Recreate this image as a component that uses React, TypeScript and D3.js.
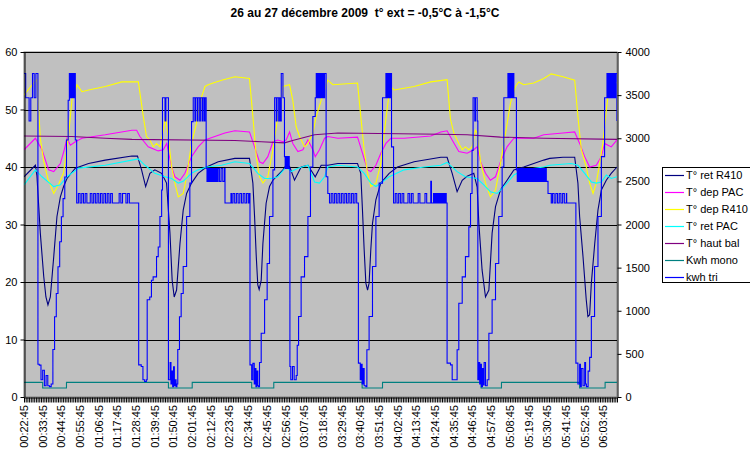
import React, { useEffect, useRef } from "react";
import * as d3 from "d3";

type Pt = [number, number];

// Category axis: one category per minute, labels every 11 minutes
const categoryCount = 349;
const labelStep = 11;
const timeLabels = [
  "00:22:45", "00:33:45", "00:44:45", "00:55:45", "01:06:45", "01:17:45", "01:28:45", "01:39:45",
  "01:50:45", "02:01:45", "02:12:45", "02:23:45", "02:34:45", "02:45:45", "02:56:45", "03:07:45",
  "03:18:45", "03:29:45", "03:40:45", "03:51:45", "04:02:45", "04:13:45", "04:24:45", "04:35:45",
  "04:46:45", "04:57:45", "05:08:45", "05:19:45", "05:30:45", "05:41:45", "05:52:45", "06:03:45",
];

const leftTicks = [0, 10, 20, 30, 40, 50, 60];
const rightTicks = [0, 500, 1000, 1500, 2000, 2500, 3000, 3500, 4000];

// [minute, value]
const retR410: Pt[] = [
  [0, 38.3], [6.7, 40.3], [7.6, 38.5], [9.6, 28.5], [11.6, 21], [12.9, 17.4], [14.1, 16], [15.5, 17.4],
  [17.5, 24.4], [19.4, 31.4], [21.4, 34.8], [23.3, 36.6], [25.3, 38], [30.2, 39.8], [38, 40.6], [47.8, 41.2],
  [63.5, 41.9], [66.8, 41.9], [69.2, 39.5], [71.6, 36.6], [74.1, 38.9], [77, 39.5], [81, 38.9], [83.9, 37.2],
  [85.9, 28.5], [87.2, 20.3], [88.4, 17.4], [89.8, 18.6], [91.8, 26.7], [93.7, 32.5], [95.7, 35.4], [98.6, 37.2],
  [102.5, 38.9], [107.4, 40], [114.3, 40.9], [124.1, 41.5], [132.7, 41.5], [134.7, 37.2], [135.7, 31.4],
  [136.7, 24.4], [137.6, 19.5], [138.4, 18.7], [139.6, 20.3], [140.6, 26.7], [142.5, 33.7], [144.5, 36.6],
  [146.5, 37.7], [149.4, 38.6], [152.4, 39.5], [154.3, 40.3], [156.3, 40.1], [159.2, 37.7], [163.1, 40],
  [167.1, 40.3], [171.4, 38.3], [174.9, 40.3], [178.8, 40.3], [184.7, 40.6], [196.3, 40.6], [198.2, 38.9],
  [199.2, 32.5], [200.2, 25.6], [201.2, 19.8], [202.2, 18.6], [203.1, 19.8], [204.1, 25.6], [205.1, 30.2],
  [207.1, 34.3], [210, 37.2], [214.9, 38.9], [219.8, 40], [229.6, 40.9], [245.3, 41.7], [249, 41.7],
  [252, 38.9], [254.9, 35.7], [257.9, 37.7], [260.8, 38.4], [264.7, 38.9], [266.7, 36.5], [267.7, 30.2],
  [269.6, 22.1], [271.6, 17.4], [273.6, 18.6], [275.5, 28.5], [277.5, 33.1], [280.4, 36], [284.3, 37.7],
  [288.3, 39.5], [294.1, 40], [300, 40.6], [305.9, 41.2], [309.4, 41.5], [317.2, 41.7], [324.1, 41.7],
  [326, 37.2], [327, 31.4], [329, 24.4], [330.9, 16.9], [331.9, 14], [332.9, 14.3], [333.9, 19.8],
  [335.9, 26.7], [337.8, 32.5], [339.8, 36], [342.7, 37.7], [345.6, 38.9], [349, 40],
];

const depPAC: Pt[] = [
  [0, 43], [6.7, 45], [10.6, 43], [14.5, 39.5], [17.5, 39.2], [21.4, 40.6], [23.7, 43], [25.3, 45],
  [27.3, 43.8], [30.2, 44.4], [34.1, 45], [47.8, 45.6], [63.5, 46.4], [66.3, 46.4], [68.2, 45.3], [73.1, 43.5],
  [79, 42.8], [82, 43], [84, 44.1], [86.9, 40], [88.8, 38.3], [91.8, 37.7], [94.7, 38.9], [98.6, 41.8],
  [102.5, 43.5], [106.5, 44.7], [112.3, 45.3], [118.2, 45.9], [124.1, 46.3], [132.7, 46.1], [135.7, 43.5],
  [138.6, 40.9], [140.6, 40.6], [143.5, 41.8], [146.5, 44.4], [149.4, 44.7], [152.4, 44.4], [154.3, 44.7],
  [156.3, 46.1], [158.2, 44.1], [161.2, 42.7], [164.1, 43], [167.1, 44.7], [170, 43], [171.4, 41.8],
  [173.9, 43], [176.9, 45], [178.8, 45.3], [184.7, 45], [196.3, 45.2], [199.2, 42.4], [202.2, 39.5],
  [204.1, 39.2], [207.1, 40.3], [210, 42.4], [213, 44.1], [215.9, 45], [223.7, 45], [239.4, 45.4],
  [245.3, 46.1], [249, 46.3], [252, 44.7], [255.9, 42.7], [260.8, 42.4], [264.7, 43], [266.7, 43.5],
  [268.7, 40.9], [271.6, 38.9], [274.5, 37.7], [277.5, 38.3], [280.4, 40.9], [284.3, 43.5], [288.3, 45],
  [300, 45], [305.9, 45.6], [317.2, 45.9], [324.1, 46.1], [327, 44.1], [330, 41.8], [332.9, 40],
  [336.8, 40.3], [339.8, 41.8], [341.7, 44.1], [343.7, 43.8], [345.6, 43.5], [349, 44.7],
];

const depR410: Pt[] = [
  [0, 52.5], [4, 54], [7.6, 55.2], [9.6, 45], [11.6, 41], [14, 38], [17.5, 35.4], [20.4, 37], [23.3, 39],
  [26.3, 45.8], [28.2, 51.6], [31.2, 54.3], [34.1, 53.1], [38, 53.4], [47.8, 54], [57.6, 54.8], [67.3, 54.8],
  [70.2, 48.8], [72.1, 45.3], [74.1, 44.7], [76.1, 43.5], [78, 44.1], [80, 43.5], [82, 46.4], [83.3, 48.8],
  [85, 45], [86.9, 40], [88.8, 37.2], [90.8, 34.8], [93.7, 35.4], [95.7, 38.3], [98.6, 44.1], [101.5, 47.6],
  [104.5, 52.2], [106.5, 54], [108.4, 54.3], [111.3, 54.6], [116.3, 55.1], [124.1, 55.7], [132.7, 55.4],
  [134.7, 48.8], [136.7, 41.8], [138.6, 38.3], [140.6, 37.2], [143.5, 38.3], [146.5, 43], [149.4, 48.8],
  [152.4, 54], [156.3, 54.3], [158.2, 51.6], [160.2, 47], [162.2, 45.3], [165.1, 43.5], [167.1, 44.1],
  [170, 45.9], [172, 48.8], [174.9, 51.6], [178.8, 55.1], [181.8, 54.3], [196.3, 54.6], [198.2, 48.8],
  [200.2, 43], [202.2, 38.9], [204.1, 36.6], [207.1, 37.2], [210, 40.6], [212, 45.9], [213.9, 50.5],
  [215.5, 54], [217.9, 53.4], [223.7, 53.7], [229.6, 54], [239.4, 54.8], [249, 55.2], [251, 48.3],
  [253, 45.9], [255.9, 44.1], [257.9, 43], [259.8, 43.5], [261.8, 43], [263.7, 43.5], [265.7, 46.4],
  [266.7, 45.9], [268.7, 40.9], [271.6, 37.2], [274.5, 34.8], [277.5, 36], [280.4, 40.6], [283.4, 45.9],
  [286.3, 51.1], [289.2, 54], [291.2, 54.8], [294.1, 54.3], [300, 54.6], [305.9, 55.4], [310.3, 56.2],
  [317.2, 55.7], [324.1, 55.1], [326, 48.8], [328, 43], [330.9, 40], [332.9, 37.2], [334.9, 35.4],
  [336.8, 37.2], [338.8, 40.6], [340.7, 44.1], [342.7, 49.9], [344.7, 54.6], [346.6, 55.1], [349, 54.6],
];

const retPAC: Pt[] = [
  [0, 36.9], [6.7, 39.5], [10.6, 38.3], [17.5, 36.6], [21.4, 36.9], [25.3, 38.3], [32.2, 39.8], [47.8, 40.3],
  [63.5, 41.2], [67.3, 41.4], [71.2, 40.3], [77, 38.9], [83, 38.3], [86.9, 38], [90.8, 37.2], [93.7, 37.5],
  [98.6, 38.9], [102.5, 39.5], [107.5, 40], [116.3, 40.3], [124.1, 40.9], [132.7, 40.6], [137.6, 38.9],
  [141.6, 38], [145.5, 38], [149.4, 38.3], [154.3, 40], [157.3, 39.2], [161.2, 39.8], [167.1, 40.3],
  [171, 37.4], [173.9, 37.2], [176.9, 38.3], [178.8, 40], [184.7, 40.3], [196.3, 40], [200.2, 38.9],
  [204.1, 37.2], [207.1, 36.6], [210, 37.2], [214.9, 38.3], [223.7, 39.5], [235.5, 40], [245.3, 40.3],
  [249, 40.8], [254.9, 39.2], [259.8, 38.3], [266.7, 38], [270.6, 36.9], [274.5, 35.7], [278.5, 35.4],
  [282.4, 36.6], [288.3, 38.6], [294.1, 39.5], [305.9, 40], [309.4, 40.3], [322.1, 40.6], [326, 40.3],
  [330, 38.9], [333.9, 37.4], [336.8, 37.2], [339.8, 37.4], [342.7, 38.6], [345.6, 38], [349, 38.3],
];

const hautBal: Pt[] = [
  [0, 45.4], [28.2, 45.3], [47.8, 45], [63.5, 44.8], [124.1, 44.6], [139.6, 44.4], [153.3, 44.2],
  [159.2, 44.7], [171, 45.6], [184.7, 45.9], [245.3, 45.7], [260.8, 45.6], [280.4, 45.2], [305.9, 45],
  [349, 44.8],
];

// secondary axis (0 - 4000)
const kwhMono: Pt[] = [
  [0, 170], [10, 170], [11, 105], [24, 105], [25, 170], [84, 170], [85, 105], [98, 105], [99, 170],
  [133, 170], [134, 105], [146, 105], [147, 170], [198, 170], [199, 105], [210, 105], [211, 170],
  [268, 170], [269, 105], [280, 105], [281, 170], [326, 170], [327, 105], [341, 105], [342, 170], [349, 170],
];

const kwhTri: Pt[] = [
  [0, 3750], [1, 3470], [2, 3470], [3, 3200], [4, 3470], [5, 3750], [6, 3470], [7, 3750], [7.8, 3750],
  [8.2, 380], [9, 370], [10, 200], [11, 310], [12, 130], [13, 250], [14, 130], [15, 120], [16, 150],
  [17, 550], [18, 930], [19, 1200], [20, 1510], [21, 1800], [22, 2090], [23, 2300], [24, 2550], [25, 2980],
  [26, 3440], [26.7, 3750], [27.2, 3470], [27.7, 3750], [28.2, 3470], [28.7, 3750], [29.2, 3470],
  [29.7, 3750], [30.2, 2980], [31, 2250], [32, 2360], [33, 2250], [34, 2360], [35, 2250], [36, 2360],
  [37, 2250], [38, 2250], [39, 2360], [40, 2250], [41, 2360], [42, 2250], [43, 2360], [44, 2250],
  [45, 2360], [46, 2250], [47, 2360], [48, 2250], [49, 2360], [50, 2250], [51, 2360], [52, 2250],
  [55, 2250], [56, 2360], [57, 2250], [58, 2360], [59, 2360], [60, 2250], [61, 2360], [62, 2250],
  [67, 2250], [67.5, 373], [69, 353], [70, 200], [71, 180], [72, 200], [72.5, 1127], [74, 1160],
  [75, 1353], [76, 1393], [78, 1627], [79, 1740], [80, 2093], [81, 2400], [81.5, 3470], [82.5, 3470],
  [83, 3200], [83.5, 3470], [84.5, 3470], [85, 200], [86, 400], [86.5, 150], [87, 300], [87.5, 120],
  [88, 350], [88.5, 130], [89, 200], [89.5, 120], [90, 150], [90.5, 550], [91.5, 930], [92.5, 1200],
  [93.7, 1513], [95.7, 2093], [97.6, 2480], [98.6, 3193], [99.6, 3470], [100.6, 3200], [101, 3470],
  [102, 3200], [102.4, 3470], [103.4, 3200], [103.8, 3470], [104.8, 3200], [105.2, 3470], [106, 3200],
  [106.5, 3470], [107.2, 2650], [107.7, 2500],
  [108.2, 2650], [108.7, 2500], [109.2, 2650], [109.7, 2500], [110.2, 2650], [110.7, 2500], [111.2, 2650],
  [111.7, 2500], [112.2, 2650], [112.7, 2500], [113.2, 2650], [113.7, 2500], [114.2, 2650], [115, 2500],
  [116, 2650], [117, 2500], [118, 2650], [118.3, 2250], [121.5, 2250], [121.8, 2360], [122.2, 2250],
  [123, 2360], [124, 2250], [125, 2360], [126, 2250], [127, 2360], [128, 2250], [129, 2360], [130, 2250],
  [131, 2360], [132, 2250], [132.7, 2360], [133, 373], [134, 200], [134.7, 390], [135.5, 150], [136, 330],
  [136.5, 120], [137, 300], [137.6, 130], [138, 120], [138.6, 400], [139.6, 740], [141.6, 1127],
  [143.1, 1547], [144.5, 2093], [146.5, 2633], [147.5, 3470], [148.5, 3200], [148.9, 3470], [149.9, 3200],
  [150.3, 3470], [151, 3200], [151.4, 3750], [152.4, 3470], [153.3, 2787],
  [153.7, 2650], [154.1, 2787], [154.5, 2650], [154.9, 2787], [155.3, 2650], [155.7, 2787], [156.1, 2650],
  [156.5, 353], [157, 200], [158, 353], [159, 200], [160.2, 250], [160.8, 600], [161.6, 933], [163.1, 1393],
  [165.1, 1627], [167.1, 2093], [168.6, 2667], [170, 3253], [171.4, 3470], [172, 3750], [172.5, 3470],
  [173, 3750], [173.5, 3470], [174, 3750], [174.5, 3470], [175, 3750], [175.5, 3470], [176, 3750],
  [176.5, 3470], [176.9, 3750], [177.8, 2553], [178.8, 2360], [179.8, 2250], [180.8, 2360], [181.8, 2250],
  [182.8, 2360], [183.8, 2250], [184.8, 2360], [185.8, 2250], [186.8, 2360], [187.8, 2250], [188.8, 2360],
  [189.8, 2250], [190.8, 2360], [191.8, 2250], [192.8, 2360], [193.8, 2250], [194.8, 2360], [195.8, 2250],
  [196.5, 2250], [196.8, 393], [197.9, 200], [198.5, 380], [199, 150], [199.6, 330], [200.2, 130],
  [201.2, 120], [201.8, 547], [203.1, 933], [205.1, 1513], [207.1, 2093], [209, 2480], [211, 3470],
  [213, 3750], [213.5, 3470], [214, 3750], [214.5, 3470], [215, 3750], [215.5, 3470], [215.9, 3750],
  [216.3, 2900], [217.5, 2250], [218.5, 2360], [219.5, 2250], [220.5, 2360], [221.5, 2250], [222.5, 2360],
  [223.5, 2250], [225, 2250], [226, 2360], [227, 2250], [228, 2360], [229, 2250], [231, 2250], [232, 2360],
  [233, 2250], [235, 2250], [236, 2360], [237, 2250], [239, 2250], [239.4, 2500], [239.8, 2250],
  [241, 2360], [241.5, 2250], [242, 2360], [242.5, 2250], [243, 2360], [243.5, 2250], [244, 2360],
  [244.5, 2250], [245, 2360], [245.5, 2250], [246, 2360], [246.5, 2250], [247, 2360], [247.5, 2250],
  [248, 2360], [248.5, 2250], [249, 393], [251, 373], [252, 200], [254, 200], [254.9, 547], [255.9, 1087],
  [257.9, 1393], [259.8, 1627], [261.8, 1973], [262.8, 2360], [263.7, 2860], [264.3, 3470], [265.3, 3200],
  [265.7, 3470], [266.7, 3200], [267.1, 200], [267.7, 400], [268.2, 150],
  [268.7, 380], [269.2, 120], [269.8, 330], [270.3, 140], [270.8, 400], [271.6, 130], [272.6, 200],
  [273.6, 740], [275.5, 1127], [277.5, 1547], [279.4, 2093], [281.4, 2667], [282.4, 3470], [284.3, 3470],
  [284.8, 3750], [285.3, 3470], [285.8, 3750], [286.3, 3470], [286.8, 3750], [287.3, 3470], [287.8, 3750],
  [288.3, 3470], [289.2, 3470], [289.8, 2633], [290.3, 2500], [290.8, 2650], [291.3, 2500], [291.8, 2650],
  [292.3, 2500], [292.8, 2650], [293.3, 2500], [293.8, 2650], [294.3, 2500], [294.8, 2650], [295.3, 2500],
  [295.8, 2650], [296.3, 2500], [296.8, 2650], [297.3, 2500], [297.8, 2650], [298.3, 2500], [298.8, 2650],
  [299.3, 2500], [299.8, 2650], [300.3, 2500], [300.8, 2650], [301.3, 2500], [301.8, 2650], [302.3, 2500],
  [302.8, 2650], [303.3, 2500], [303.8, 2650], [304.3, 2500], [304.8, 2650], [305.3, 2500], [305.8, 2650],
  [306.3, 2500], [306.8, 2650], [307.4, 2500], [308.4, 2360], [309.4, 2360], [310.3, 2250], [311, 2360],
  [312, 2250], [313, 2360], [314, 2250], [315, 2360], [316, 2250], [317, 2360], [318, 2250], [319.2, 2360],
  [319.4, 2250], [324.5, 2250], [324.8, 393], [326, 150], [327, 380], [327.5, 120], [328, 330], [329, 130],
  [330, 400], [330.5, 150], [331, 120], [332, 300], [332.9, 460], [333.9, 933], [335.8, 1513],
  [337.8, 2093], [339.8, 2787], [341.7, 3470], [342.5, 3470], [343.1, 3750], [343.6, 3470], [344.1, 3750],
  [344.6, 3470], [345.1, 3750], [345.6, 3470], [346.1, 3750], [346.6, 3470], [347.1, 3750], [347.6, 3470],
  [348.2, 3750], [349, 3200],
];

const series = [
  { name: "T° ret R410", color: "#000080", data: retR410, axis: "left", step: false },
  { name: "T° dep PAC", color: "#FF00FF", data: depPAC, axis: "left", step: false },
  { name: "T° dep R410", color: "#FFFF00", data: depR410, axis: "left", step: false },
  { name: "T° ret PAC", color: "#00FFFF", data: retPAC, axis: "left", step: false },
  { name: "T° haut bal", color: "#800080", data: hautBal, axis: "left", step: false },
  { name: "Kwh mono", color: "#008080", data: kwhMono, axis: "right", step: true },
  { name: "kwh tri", color: "#0000FF", data: kwhTri, axis: "right", step: true },
];

const FONT = "'Liberation Sans', Arial, sans-serif";

export default function App() {
  const svgRef = useRef<SVGSVGElement>(null);

  useEffect(() => {
    if (!svgRef.current) return;
    const width = 750;
    const height = 454;
    const plot = { left: 24, right: 617, top: 52, bottom: 397 };

    const svg = d3.select(svgRef.current).attr("width", width).attr("height", height);
    svg.selectAll("*").remove();

    svg.append("rect").attr("width", width).attr("height", height).attr("fill", "#fff");

    // Title
    svg
      .append("text")
      .attr("x", 365)
      .attr("y", 17)
      .attr("text-anchor", "middle")
      .attr("font-family", FONT)
      .attr("font-size", 12)
      .attr("font-weight", "bold")
      .style("white-space", "pre")
      .text("26 au 27 décembre 2009  t° ext = -0,5°C à -1,5°C");

    const x = d3.scaleLinear().domain([0, categoryCount]).range([plot.left, plot.right]);
    const yL = d3.scaleLinear().domain([0, 60]).range([plot.bottom, plot.top]);
    const yR = d3.scaleLinear().domain([0, 4000]).range([plot.bottom, plot.top]);

    // Plot area
    svg
      .append("rect")
      .attr("x", plot.left)
      .attr("y", plot.top)
      .attr("width", plot.right - plot.left)
      .attr("height", plot.bottom - plot.top)
      .attr("fill", "#C0C0C0")
      .attr("stroke", "#808080");

    // Gridlines
    svg
      .append("g")
      .selectAll("line")
      .data(leftTicks.filter((t) => t > 0))
      .join("line")
      .attr("x1", plot.left)
      .attr("x2", plot.right)
      .attr("y1", (d) => Math.round(yL(d)) + 0.5)
      .attr("y2", (d) => Math.round(yL(d)) + 0.5)
      .attr("stroke", "#000")
      .attr("stroke-width", 1);

    // Series
    svg
      .append("clipPath")
      .attr("id", "plotClip")
      .append("rect")
      .attr("x", plot.left)
      .attr("y", plot.top - 2)
      .attr("width", plot.right - plot.left)
      .attr("height", plot.bottom - plot.top + 2);

    const lines = svg.append("g").attr("clip-path", "url(#plotClip)");
    series.forEach((s) => {
      const yScale = s.axis === "left" ? yL : yR;
      const line = d3
        .line<Pt>()
        .curve(s.step ? d3.curveStepAfter : d3.curveLinear)
        .x((d) => x(d[0]))
        .y((d) => yScale(d[1]));
      lines
        .append("path")
        .datum(s.data)
        .attr("d", line)
        .attr("fill", "none")
        .attr("stroke", s.color)
        .attr("stroke-width", 1.1)
        .attr("stroke-linejoin", "miter");
    });

    // Left axis
    const gl = svg
      .append("g")
      .attr("transform", `translate(${plot.left + 0.5},0)`)
      .call(d3.axisLeft(yL).tickValues(leftTicks).tickSize(4).tickPadding(3).tickSizeOuter(0));
    // Right axis
    const gr = svg
      .append("g")
      .attr("transform", `translate(${plot.right + 0.5},0)`)
      .call(
        d3
          .axisRight(yR)
          .tickValues(rightTicks)
          .tickSize(4)
          .tickPadding(4)
          .tickSizeOuter(0)
          .tickFormat(d3.format("d"))
      );
    [gl, gr].forEach((g) => {
      g.selectAll("text").attr("font-family", FONT).attr("font-size", 11).attr("fill", "#000");
      g.selectAll("line").attr("stroke", "#000");
      g.select(".domain").attr("stroke", "#000");
    });

    // Bottom axis: a tick between every category
    const gb = svg
      .append("g")
      .attr("transform", `translate(0,${plot.bottom + 0.5})`)
      .call(
        d3
          .axisBottom(x)
          .tickValues(d3.range(0, categoryCount + 1))
          .tickSize(5)
          .tickSizeOuter(0)
          .tickFormat(() => "")
      );
    gb.selectAll("line").attr("stroke", "#000");
    gb.select(".domain").attr("stroke", "#000");

    // Rotated time labels
    svg
      .append("g")
      .selectAll("text")
      .data(timeLabels)
      .join("text")
      .attr("transform", (_, i) => `translate(${x(i * labelStep)},405) rotate(-90)`)
      .attr("text-anchor", "end")
      .attr("dy", "0.35em")
      .attr("font-family", FONT)
      .attr("font-size", 11)
      .text((d) => d);

    // Legend
    const lg = svg.append("g");
    lg.append("rect")
      .attr("x", 662.5)
      .attr("y", 167.5)
      .attr("width", 92)
      .attr("height", 115)
      .attr("fill", "#fff")
      .attr("stroke", "#000");
    series.forEach((s, i) => {
      const cy = 175.5 + i * 17;
      lg.append("line")
        .attr("x1", 665)
        .attr("x2", 684)
        .attr("y1", cy)
        .attr("y2", cy)
        .attr("stroke", s.color)
        .attr("stroke-width", 1.2);
      lg.append("text")
        .attr("x", 686)
        .attr("y", cy)
        .attr("dy", "0.35em")
        .attr("font-family", FONT)
        .attr("font-size", 11)
        .text(s.name);
    });
  }, []);

  return <svg ref={svgRef} style={{ position: "absolute", left: 0, top: 0 }} />;
}
